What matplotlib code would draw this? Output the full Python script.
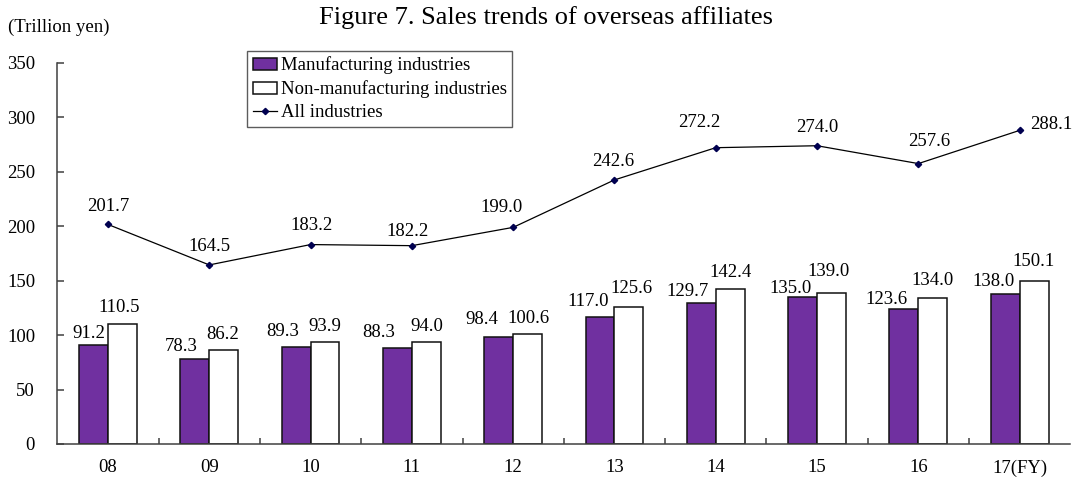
import matplotlib
matplotlib.use("Agg")
import matplotlib.pyplot as plt
import numpy as np

plt.rcParams['font.family'] = ['Liberation Serif', 'DejaVu Serif']

years = ["08", "09", "10", "11", "12", "13", "14", "15", "16", "17(FY)"]
manufacturing = [91.2, 78.3, 89.3, 88.3, 98.4, 117.0, 129.7, 135.0, 123.6, 138.0]
non_manufacturing = [110.5, 86.2, 93.9, 94.0, 100.6, 125.6, 142.4, 139.0, 134.0, 150.1]
all_industries = [201.7, 164.5, 183.2, 182.2, 199.0, 242.6, 272.2, 274.0, 257.6, 288.1]

# label nudges (pixels) relative to the top of each mark
mfg_off = [(-5, 11), (-14, 12), (-13, 15), (-19, 15), (-17, 17),
           (-12, 15), (-14, 11), (-12, 9), (-17, 10), (-12, 12)]
non_off = [(-3, 16), (-1, 16), (0, 15), (1, 15), (1, 16),
           (3, 19), (0, 16), (-3, 21), (0, 18), (-1, 19)]
all_off = [(0, 18), (0, 18), (1, 19), (-4, 14), (-12, 20),
           (-1, 18), (-17, 25), (0, 18), (11, 22), (32, 6)]

PURPLE = "#7030A0"
FS = 13.5

fig = plt.figure(figsize=(10.75, 4.78), dpi=100)
ax = fig.add_axes([57.3 / 1075, 34 / 478, 1013 / 1075, 381 / 478])

x = np.arange(len(years))
w = 0.285
b1 = ax.bar(x - w / 2, manufacturing, w, color=PURPLE, edgecolor="#111111",
            linewidth=1.1, label="Manufacturing industries", zorder=2)
b2 = ax.bar(x + w / 2, non_manufacturing, w, color="white", edgecolor="#111111",
            linewidth=1.1, label="Non-manufacturing industries", zorder=2)
ln, = ax.plot(x, all_industries, color="black", linewidth=0.9, marker="D",
              markersize=3.2, markerfacecolor="#000050", markeredgecolor="#000050",
              label="All industries", zorder=3)

def put(xv, yv, txt, off, ha="center"):
    ax.annotate(txt, (xv, yv), xytext=off, textcoords="offset pixels",
                ha=ha, va="center", fontsize=FS, color="black", zorder=4)

for i in range(len(years)):
    put(x[i] - w / 2, manufacturing[i], f"{manufacturing[i]:.1f}", mfg_off[i])
    put(x[i] + w / 2, non_manufacturing[i], f"{non_manufacturing[i]:.1f}", non_off[i])
    put(x[i], all_industries[i], f"{all_industries[i]:.1f}", all_off[i])

ax.set_xlim(-0.5, len(years) - 0.5)
ax.set_ylim(0, 350)
ax.set_yticks(np.arange(0, 351, 50))
ax.tick_params(axis="y", direction="in", length=5, width=1.1, pad=16,
               labelsize=FS, color="#404040")
ax.set_xticks(x)
ax.set_xticklabels(years)
ax.tick_params(axis="x", which="major", length=0, pad=11, labelsize=FS)
ax.set_xticks(np.arange(0.5, len(years) - 0.5, 1), minor=True)
ax.tick_params(axis="x", which="minor", direction="in", length=4, width=1.1,
               color="#404040")

for s in ("top", "right"):
    ax.spines[s].set_visible(False)
for s in ("left", "bottom"):
    ax.spines[s].set_color("#404040")
    ax.spines[s].set_linewidth(1.1)

leg = fig.legend(handles=[b1, b2, ln], loc="upper left",
                 bbox_to_anchor=(247 / 1075, 1 - 51 / 478), fontsize=FS,
                 frameon=True, fancybox=False, edgecolor="#333333",
                 handlelength=1.3, handleheight=0.6, handletextpad=0.2,
                 labelspacing=0.32, borderpad=0.3, borderaxespad=0)
leg.get_frame().set_linewidth(1.0)

fig.text(546 / 1075, 1 - 18 / 478, "Figure 7. Sales trends of overseas affiliates",
         ha="center", va="center", fontsize=19)
fig.text(8 / 1075, 1 - 27 / 478, "(Trillion yen)", ha="left", va="center", fontsize=FS)

fig.savefig("out.png", dpi=100)
